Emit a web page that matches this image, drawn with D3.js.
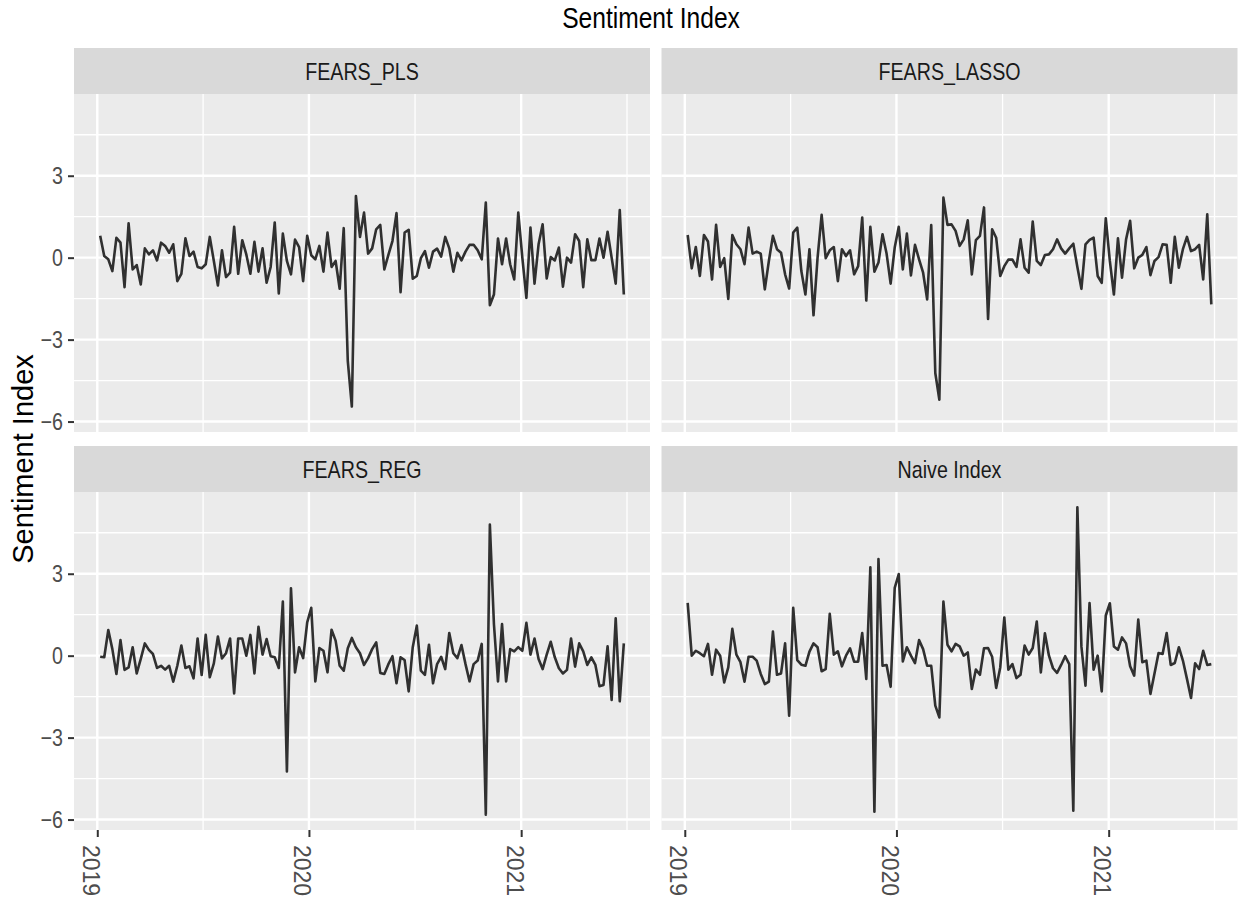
<!DOCTYPE html>
<html>
<head>
<meta charset="utf-8">
<script src="https://cdn.jsdelivr.net/npm/d3@7"></script>
<style>
  body { margin: 0; background: #fff; }
  svg { display: block; }
  text { font-family: "Liberation Sans", Arial, sans-serif; }
</style>
</head>
<body>
<svg width="1238" height="899"></svg>
<script>
// weekly observations, first week ending 2019-01-06
var startDate = Date.UTC(2019, 0, 6);

var panelNames = ["FEARS_PLS", "FEARS_LASSO", "FEARS_REG", "Naive Index"];

var fearsPls = [0.80, 0.06, -0.06, -0.49, 0.73, 0.55, -1.08, 1.26, -0.43, -0.27,
  -0.98, 0.34, 0.12, 0.27, -0.10, 0.55, 0.43, 0.18, 0.49, -0.86,
  -0.59, 0.71, 0.06, 0.22, -0.34, -0.39, -0.24, 0.76, -0.12, -1.02,
  0.27, -0.71, -0.55, 1.13, -0.59, 0.64, 0.12, -0.59, 0.58, -0.51,
  0.34, -0.92, -0.34, 1.29, -1.31, 0.88, -0.12, -0.61, 0.66, 0.39,
  -0.86, 0.80, 0.09, -0.06, 0.43, -0.51, 0.92, -0.34, -0.12, -1.14,
  1.08, -3.79, -5.45, 2.26, 0.76, 1.65, 0.15, 0.34, 1.04, 1.20,
  -0.43, 0.10, 0.61, 1.63, -1.26, 0.92, 1.02, -0.77, -0.67, -0.02,
  0.24, -0.37, 0.22, 0.33, 0.04, 0.76, 0.34, -0.51, 0.18, -0.10,
  0.22, 0.47, 0.47, 0.27, -0.06, 2.02, -1.74, -1.35, 0.70, -0.24,
  0.70, -0.24, -0.80, 1.65, 0.00, -1.47, 1.10, -0.95, 0.49, 1.22,
  -0.76, 0.02, -0.10, 0.37, -1.06, 0.00, -0.18, 0.86, 0.61, -1.08,
  0.67, -0.09, -0.09, 0.70, 0.00, 0.95, 0.00, -0.95, 1.74, -1.35];

var fearsLasso = [0.83, -0.39, 0.39, -0.67, 0.83, 0.59, -0.80, 1.20, -0.34, -0.02,
  -1.51, 0.83, 0.49, 0.31, -0.24, 1.10, 0.15, 0.22, 0.15, -1.16,
  -0.12, 0.80, 0.31, 0.18, -0.61, -1.13, 0.92, 1.10, -0.49, -1.35,
  0.31, -2.11, 0.00, 1.57, -0.02, 0.27, 0.39, -0.86, 0.31, 0.06,
  0.27, -0.61, -0.31, 1.47, -1.57, 1.13, -0.51, -0.18, 0.86, 0.15,
  -0.95, 0.37, 1.13, -0.43, 0.88, -0.65, 0.47, -0.06, -0.55, -1.53,
  1.19, -4.22, -5.20, 2.20, 1.20, 1.22, 0.98, 0.43, 0.67, 1.37,
  -0.61, 0.64, 0.80, 1.84, -2.24, 1.04, 0.73, -0.67, -0.31, -0.07,
  -0.07, -0.34, 0.67, -0.37, -0.55, 1.32, -0.12, -0.27, 0.10, 0.12,
  0.31, 0.67, 0.34, 0.15, 0.34, 0.51, -0.34, -1.14, 0.49, 0.65,
  0.73, -0.67, -0.92, 1.44, -0.12, -1.35, 0.71, -0.73, 0.67, 1.35,
  -0.39, 0.00, 0.10, 0.39, -0.64, -0.12, 0.02, 0.49, 0.47, -0.92,
  0.76, -0.37, 0.31, 0.76, 0.24, 0.31, 0.47, -0.80, 1.59, -1.71];

var fearsReg = [-0.04, -0.06, 0.94, 0.24, -0.67, 0.57, -0.52, -0.43, 0.31, -0.65,
  -0.12, 0.45, 0.21, 0.06, -0.45, -0.37, -0.51, -0.37, -0.95, -0.37,
  0.37, -0.45, -0.39, -0.83, 0.63, -0.71, 0.76, -0.79, -0.28, 0.70,
  -0.10, 0.09, 0.63, -1.38, 0.63, 0.63, 0.00, 0.76, -0.65, 1.06,
  0.04, 0.61, -0.02, -0.06, -0.45, 1.98, -4.24, 2.47, -0.61, 0.31,
  -0.09, 1.22, 1.75, -0.94, 0.28, 0.18, -0.61, 0.95, 0.55, -0.37,
  -0.55, 0.27, 0.65, 0.31, 0.09, -0.34, -0.09, 0.24, 0.49, -0.63,
  -0.67, -0.31, -0.02, -1.01, -0.06, -0.16, -1.31, 0.31, 1.10, -0.55,
  -0.70, 0.40, -1.01, -0.31, -0.04, -0.49, 0.83, 0.09, -0.09, 0.39,
  -0.31, -0.94, -0.31, -0.18, 0.43, -5.82, 4.80, 1.16, -0.94, 1.16,
  -0.94, 0.24, 0.16, 0.31, 0.18, 1.20, 0.04, 0.63, -0.12, -0.49,
  0.04, 0.51, -0.06, -0.46, -0.65, -0.52, 0.63, -0.40, 0.45, 0.16,
  -0.34, -0.06, -0.34, -1.12, -1.07, 0.34, -1.62, 1.37, -1.67, 0.45];

var naiveIndex = [1.93, 0.00, 0.18, 0.09, -0.02, 0.43, -0.70, 0.22, 0.00, -0.98,
  -0.43, 0.98, 0.04, -0.24, -0.95, -0.04, -0.04, -0.18, -0.67, -1.04,
  -0.95, 0.88, -0.70, -0.65, 0.45, -2.20, 1.75, -0.16, -0.33, -0.37,
  0.15, 0.45, 0.31, -0.57, -0.49, 1.53, 0.04, 0.16, -0.39, 0.00,
  0.27, -0.22, -0.22, 0.83, -0.85, 3.24, -5.71, 3.54, -0.37, -0.34,
  -1.14, 2.48, 2.99, -0.21, 0.31, 0.00, -0.27, 0.57, 0.24, -0.37,
  -0.37, -1.83, -2.26, 1.98, 0.40, 0.16, 0.43, 0.34, 0.00, 0.12,
  -1.22, -0.51, -0.70, 0.27, 0.28, -0.04, -1.18, -0.43, 1.40, -0.51,
  -0.31, -0.82, -0.70, 0.37, 0.04, 0.28, 1.25, -0.61, 0.82, 0.00,
  -0.46, -0.63, -0.34, -0.02, -0.31, -5.68, 5.43, 0.33, -1.10, 1.93,
  -0.51, 0.00, -1.31, 1.47, 1.92, 0.34, 0.22, 0.67, 0.45, -0.39,
  -0.73, 1.32, -0.24, -0.18, -1.40, -0.65, 0.10, 0.06, 0.83, -0.34,
  -0.27, 0.31, -0.18, -0.85, -1.55, -0.28, -0.49, 0.18, -0.34, -0.31];

var yTicks = [-6, -3, 0, 3];
var xTickYears = [2019, 2020, 2021];

var allSeries = [fearsPls, fearsLasso, fearsReg, naiveIndex];

var dates = fearsPls.map(function(d, i) {
  return new Date(startDate + i * 7 * 864e5);
});

// layout of the 2x2 facet grid
var svg = d3.select("svg");
var colX = [74, 661.5];
var panelW = 576;
var stripTop = [48, 446];
var stripH = 46;
var panelH = 338;
var narrow = 0.82; // horizontal squeeze to mimic Helvetica Narrow

// ggplot-like 5% expansion
var xExt = d3.extent(dates);
var xPad = (xExt[1] - xExt[0]) * 0.05;
var yMin = d3.min(allSeries, function(s) { return d3.min(s); });
var yMax = d3.max(allSeries, function(s) { return d3.max(s); });
var yPad = (yMax - yMin) * 0.05;

var scaleX = d3.scaleUtc()
  .domain([new Date(+xExt[0] - xPad), new Date(+xExt[1] + xPad)])
  .range([0, panelW]);

var scaleY = d3.scaleLinear()
  .domain([yMin - yPad, yMax + yPad])
  .range([panelH, 0]);

var yearDates = xTickYears.map(function(y) { return new Date(Date.UTC(y, 0, 1)); });
var minorX = [];
for (var i = 0; i < yearDates.length; i++) {
  var a = yearDates[i];
  var b = i < yearDates.length - 1 ? yearDates[i + 1] : new Date(Date.UTC(xTickYears[i] + 1, 0, 1));
  minorX.push(new Date((+a + +b) / 2));
}
minorX = minorX.filter(function(d) { return d >= scaleX.domain()[0] && d <= scaleX.domain()[1]; });

var minorY = [];
for (var j = 0; j < yTicks.length; j++) {
  minorY.push(yTicks[j] + 1.5);
}
minorY = minorY.filter(function(v) { return v >= scaleY.domain()[0] && v <= scaleY.domain()[1]; });

var line = d3.line()
  .x(function(d, i) { return scaleX(dates[i]); })
  .y(function(d) { return scaleY(d); });

panelNames.forEach(function(name, p) {
  var col = p % 2, row = Math.floor(p / 2);
  var px = colX[col], sy = stripTop[row], py = sy + stripH;

  // strip
  svg.append("rect")
    .attr("x", px).attr("y", sy)
    .attr("width", panelW).attr("height", stripH)
    .attr("fill", "#d9d9d9");
  svg.append("text")
    .attr("transform", "translate(" + (px + panelW / 2) + "," + (sy + stripH / 2 + 8.5) + ") scale(" + narrow + ",1)")
    .attr("text-anchor", "middle")
    .attr("font-size", 24)
    .attr("fill", "#1a1a1a")
    .text(name);

  var g = svg.append("g").attr("transform", "translate(" + px + "," + py + ")");

  g.append("rect")
    .attr("width", panelW).attr("height", panelH)
    .attr("fill", "#ebebeb");

  g.selectAll(".minorY").data(minorY).enter().append("line")
    .attr("x1", 0).attr("x2", panelW)
    .attr("y1", function(d) { return scaleY(d); })
    .attr("y2", function(d) { return scaleY(d); })
    .attr("stroke", "#fff").attr("stroke-width", 1.3);

  g.selectAll(".minorX").data(minorX).enter().append("line")
    .attr("y1", 0).attr("y2", panelH)
    .attr("x1", function(d) { return scaleX(d); })
    .attr("x2", function(d) { return scaleX(d); })
    .attr("stroke", "#fff").attr("stroke-width", 1.3);

  g.selectAll(".majorY").data(yTicks).enter().append("line")
    .attr("x1", 0).attr("x2", panelW)
    .attr("y1", function(d) { return scaleY(d); })
    .attr("y2", function(d) { return scaleY(d); })
    .attr("stroke", "#fff").attr("stroke-width", 2.4);

  g.selectAll(".majorX").data(yearDates).enter().append("line")
    .attr("y1", 0).attr("y2", panelH)
    .attr("x1", function(d) { return scaleX(d); })
    .attr("x2", function(d) { return scaleX(d); })
    .attr("stroke", "#fff").attr("stroke-width", 2.4);

  g.append("path")
    .datum(allSeries[p])
    .attr("d", line)
    .attr("fill", "none")
    .attr("stroke", "#303030")
    .attr("stroke-width", 2.6)
    .attr("stroke-linejoin", "round");

  // y axis only on left column
  if (col == 0) {
    var ya = g.append("g")
      .call(d3.axisLeft(scaleY).tickValues(yTicks).tickSize(6).tickPadding(5)
        .tickFormat(function(d) { return d < 0 ? "\u2212" + Math.abs(d) : d; }));
    ya.select(".domain").remove();
    ya.selectAll("line").attr("stroke", "#333").attr("stroke-width", 2);
    ya.selectAll("text")
      .attr("x", 0)
      .attr("transform", "translate(-11,0) scale(" + narrow + ",1)")
      .attr("font-size", 24)
      .attr("fill", "#4d4d4d");
  }

  // x axis only on bottom row
  if (row == 1) {
    var xa = g.append("g")
      .attr("transform", "translate(0," + panelH + ")")
      .call(d3.axisBottom(scaleX).tickValues(yearDates).tickSize(7)
        .tickFormat(d3.utcFormat("%Y")));
    xa.select(".domain").remove();
    xa.selectAll("line").attr("stroke", "#333").attr("stroke-width", 2);
    xa.selectAll("text")
      .attr("font-size", 23)
      .attr("fill", "#4d4d4d")
      .attr("text-anchor", "start")
      .attr("dy", null)
      .attr("y", 0)
      .attr("x", 0)
      .attr("transform", "translate(-15,15) rotate(90)");
  }
});

// titles
svg.append("text")
  .attr("transform", "translate(651,28) scale(" + narrow + ",1)")
  .attr("text-anchor", "middle")
  .attr("font-size", 30)
  .attr("fill", "#000")
  .text("Sentiment Index");

svg.append("text")
  .attr("transform", "translate(33,459) rotate(-90)")
  .attr("text-anchor", "middle")
  .attr("font-size", 29)
  .attr("fill", "#000")
  .text("Sentiment Index");
</script>
</body>
</html>
